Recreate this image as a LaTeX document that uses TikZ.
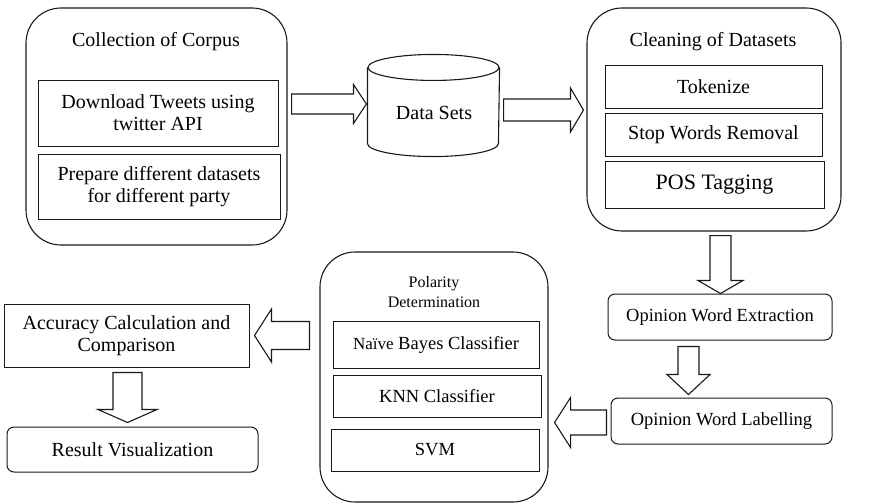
\documentclass[tikz,border=0pt]{standalone}
\usepackage{fontspec}
\setmainfont{Liberation Serif}
\usetikzlibrary{calc}

% Hollow block arrow: start, tip, shaft half-width, head half-width, head length (all pt)
\newcommand{\fatarrow}[5]{%
  \draw[blockarrow] let \p1=(#1), \p2=(#2),
      \n1={veclen(\x2-\x1,\y2-\y1)},
      \n2={(\x2-\x1)/\n1}, \n3={(\y2-\y1)/\n1} in
    ({\x1-#3*(\n3)*1pt},{\y1+#3*(\n2)*1pt}) --
    ({\x2-#5*(\n2)*1pt-#3*(\n3)*1pt},{\y2-#5*(\n3)*1pt+#3*(\n2)*1pt}) --
    ({\x2-#5*(\n2)*1pt-#4*(\n3)*1pt},{\y2-#5*(\n3)*1pt+#4*(\n2)*1pt}) --
    (\p2) --
    ({\x2-#5*(\n2)*1pt+#4*(\n3)*1pt},{\y2-#5*(\n3)*1pt-#4*(\n2)*1pt}) --
    ({\x2-#5*(\n2)*1pt+#3*(\n3)*1pt},{\y2-#5*(\n3)*1pt-#3*(\n2)*1pt}) --
    ({\x1+#3*(\n3)*1pt},{\y1-#3*(\n2)*1pt}) -- cycle;%
}

\begin{document}
\begin{tikzpicture}[x=1pt,y=-1pt,
  line width=1.1pt, draw=black!90, text=black,
  group/.style={draw, rounded corners=35pt, inner sep=0pt},
  grouptitle/.style={inner sep=0pt, align=center, font=\fontsize{20}{22}\selectfont},
  item/.style={draw, line width=1pt, inner sep=0pt, align=center, font=\fontsize{20}{22}\selectfont},
  roundbox/.style={item, rounded corners=7pt, font=\fontsize{18.5}{22}\selectfont},
  classbox/.style={item, font=\fontsize{18.5}{22}\selectfont},
  blockarrow/.style={draw, fill=white, line join=miter}
]
\useasboundingbox (0,0) rectangle (874,503);

% Collection of corpus
\node[group, minimum width=261pt, minimum height=237pt] (corpus) at (156.5,126.5) {};
\node[grouptitle] (corpustitle) at (156,42) {Collection of Corpus};
\node[item, minimum width=240pt, minimum height=66pt] (download) at (158,113)
  {Download Tweets using\\twitter API};
\node[item, minimum width=242pt, minimum height=65pt] (prepare) at (159,186.5)
  {Prepare different datasets\\for different party};

% Data store cylinder
\node[minimum width=131pt, minimum height=101pt, inner sep=0pt] (ds) at (433.5,105.5) {};
\draw ($(ds.north west)+(0,13)$) -- ($(ds.south west)+(0,-13)$)
  arc[start angle=180, end angle=360, x radius=65.5pt, y radius=13pt]
  -- ($(ds.north east)+(0,13)$);
\draw ($(ds.north)+(0,13)$) ellipse[x radius=65.5pt, y radius=13pt];
\node[grouptitle] (dstext) at ($(ds.center)+(0.5,7.5)$) {Data Sets};

% Cleaning of datasets
\node[group, minimum width=254pt, minimum height=223pt] (clean) at (714,119.5) {};
\node[grouptitle] (cleantitle) at (713,42) {Cleaning of Datasets};
\node[item, minimum width=217pt, minimum height=43pt] (tok) at (713.5,86.5) {Tokenize};
\node[item, minimum width=217pt, minimum height=43pt] (stop) at (713.5,134.5) {Stop Words Removal};
\node[item, minimum width=219pt, minimum height=47pt, font=\fontsize{22}{24}\selectfont]
  (pos) at (714.5,184.5) {POS Tagging};

% Opinion words
\node[roundbox, minimum width=224pt, minimum height=46pt] (ext) at (720,317) {Opinion Word Extraction};
\node[roundbox, minimum width=221pt, minimum height=46pt] (lab) at (721.5,421) {Opinion Word Labelling};

% Polarity determination
\node[group, minimum width=228pt, minimum height=250pt] (pol) at (434,377) {};
\node[grouptitle, font=\fontsize{16}{20}\selectfont] (poltitle) at (434,292) {Polarity\\Determination};
\node[classbox, minimum width=206pt, minimum height=47pt] (nb) at (436,344.5)
  {{\fontsize{17}{22}\selectfont Naïve} Bayes Classifier};
\node[classbox, minimum width=208pt, minimum height=42pt] (knn) at (437,396) {KNN Classifier};
\node[classbox, minimum width=208pt, minimum height=42pt] (svm) at (435,450) {SVM};

% Evaluation
\node[item, minimum width=245pt, minimum height=63pt] (acc) at (126.5,335.5)
  {Accuracy Calculation and\\Comparison};
\node[roundbox, font=\fontsize{20}{22}\selectfont, minimum width=251pt, minimum height=45pt]
  (res) at (132.5,449.5) {Result Visualization};

% Flow arrows
\fatarrow{$(corpus.east |- ds.center)+(4,-1.5)$}{$(ds.west)+(-1,-1.5)$}{10}{19.5}{13}
\fatarrow{$(ds.east)+(4,4.5)$}{$(clean.west |- ds.east)+(-3,4.5)$}{11}{22}{13}
\fatarrow{$(clean.south)+(6.5,4)$}{$(ext.north)+(0.5,0)$}{10.5}{22.5}{13}
\fatarrow{$(ext.south)+(-31.5,6)$}{$(lab.north)+(-33,-3)$}{10.5}{21.5}{20}
\fatarrow{$(lab.west)+(-4,1.5)$}{$(pol.east |- lab.west)+(6,1.5)$}{12.5}{25}{16}
\fatarrow{$(acc.east -| pol.west)+(-10,0)$}{$(acc.east)+(5,0)$}{14}{26.5}{17}
\fatarrow{$(acc.south)+(1,5)$}{$(res.north)+(-5,-4)$}{14.5}{29.5}{13}
\end{tikzpicture}
\end{document}
